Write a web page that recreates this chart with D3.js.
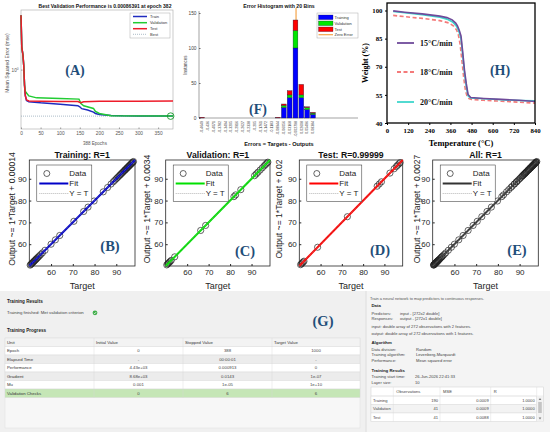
<!DOCTYPE html>
<html>
<head>
<meta charset="utf-8">
<script src="https://cdn.jsdelivr.net/npm/d3@7/dist/d3.min.js"></script>
<style>html,body{margin:0;padding:0;background:#fff;}svg{display:block;}</style>
</head>
<body>
<svg id="chart" width="550" height="432"></svg>
<script>
// ---------- (A) training performance (MSE, log scale) ----------
const trainEpochs = [0, 2, 5, 7, 9, 11, 14, 20, 50, 100, 145, 150, 155, 170, 185, 190, 200, 230, 260, 300, 388];
const trainMSE    = [4430, 34, 10, 2, 0.1, 0.02, 0.0095, 0.0078, 0.0066, 0.0054, 0.0043, 0.0036, 0.0027, 0.0022, 0.0016, 0.0013, 0.0011, 0.00095, 0.0009, 0.00089, 0.00088];
const valEpochs   = [0, 2, 5, 7, 9, 11, 13, 20, 40, 100, 148, 153, 160, 185, 190, 200, 230, 388];
const valMSE      = [4430, 34, 10, 2, 0.1, 0.04, 0.032, 0.019, 0.0142, 0.0128, 0.0117, 0.006, 0.0042, 0.0028, 0.0018, 0.0013, 0.00093, 0.00086391];
const testEpochs  = [0, 2, 5, 7, 9, 11, 14, 20, 50, 100, 145, 152, 160, 200, 300, 388];
const testMSE     = [4430, 34, 10, 2, 0.1, 0.02, 0.0105, 0.0088, 0.0085, 0.0082, 0.008, 0.0068, 0.0079, 0.0085, 0.0086, 0.0088];
const bestEpoch = 382, bestPerf = 0.00086391;
const perfTicks = [0, 50, 100, 150, 200, 250, 300, 350];

// ---------- (F) error histogram ----------
const binLabels = ["-0.4649","-0.436","-0.4071","-0.3782","-0.3494","-0.3205","-0.2916","-0.2627","-0.2338","-0.205","-0.1761","-0.1472","-0.1183","-0.08944","-0.06056","-0.03168","-0.002798","0.02608","0.05496","0.08384"];
const histTrain = [0,0,0,0,0,0,0,0,0,0,0,0,0,0,15,29,100,29,12,5];
const histVal   = [0,0,0,0,0,0,0,0,0,0,0,0,0,0,3,4,25,4,3,2];
const histTest  = [1,0,0,0,0,0,0,0,0,0,0,0,0,1,2,6,15,15,1,1];
const histTicks = [0, 50, 100, 150];

// ---------- (H) TGA curves ----------
const temp15 = [35, 100, 200, 300, 340, 370, 390, 400, 410, 420, 430, 440, 450, 460, 475, 550, 650, 750, 840];
const wt15   = [99.8, 99.1, 98.2, 97.0, 96.2, 95.0, 93.3, 91.8, 89.5, 86.5, 77.5, 68, 61, 55.2, 53.6, 53.1, 52.6, 52.1, 51.5];
const temp18 = [35, 100, 200, 300, 350, 380, 395, 405, 415, 425, 435, 445, 455, 465, 480, 550, 650, 750, 840];
const wt18   = [97.4, 96.7, 95.8, 94.6, 93.4, 91.6, 89.6, 87.0, 82.0, 73.5, 64.5, 57.5, 54.0, 53.0, 52.6, 52.1, 51.6, 51.1, 50.6];
const temp20 = [35, 100, 200, 300, 340, 370, 390, 400, 410, 420, 430, 440, 450, 460, 475, 550, 650, 750, 840];
const wt20   = [99.5, 98.8, 97.8, 96.4, 95.4, 94.0, 92.2, 90.6, 88.3, 85, 76, 66.5, 59.5, 54.5, 53.3, 52.9, 52.4, 52.0, 51.8];
const tgaXTicks = [0, 120, 240, 360, 480, 600, 720, 840];
const tgaYTicks = [40, 55, 70, 85, 100];

// ---------- (B-E) regression ----------
const trainTargets = [50.4, 50.7, 51.0, 51.3, 51.6, 51.9, 52.2, 52.5, 52.8, 53.1, 53.4, 53.8, 54.2, 54.7, 55.3, 56.0, 57.2, 60.0, 62.0, 64.0, 70.5, 75.0, 77.0, 79.8, 84.0, 86.0, 87.6, 88.6, 89.3, 89.9, 90.4, 90.9, 91.4, 91.8, 92.2, 92.6, 93.0, 93.4, 93.7, 94.0, 94.3, 94.6, 94.9, 95.2, 95.5, 95.8, 96.1, 96.4, 96.7, 97.0, 97.3, 97.6, 97.9];
const valTargets   = [50.5, 50.9, 51.3, 51.7, 52.1, 52.6, 54.2, 66.3, 68.6, 81.8, 82.6, 85.0, 91.4, 92.2, 93.0, 94.0, 95.0, 95.9, 96.5, 97.1, 97.6];
const testTargets  = [50.6, 51.0, 51.4, 51.8, 52.2, 58.6, 72.6, 86.6, 87.6, 88.6, 92.6, 94.6, 95.6, 96.2, 96.8, 97.4];
const allTargets   = trainTargets.concat(valTargets, testTargets);
const regTicks = [60, 70, 80, 90];

// ---------- (G) training summary ----------
const progCols = ["Unit", "Initial Value", "Stopped Value", "Target Value"];
const progRows = [["Epoch","0","388","1000"],["Elapsed Time","-","00:00:01","-"],["Performance","4.43e+03","0.000913","0"],["Gradient","8.68e+03","0.0143","1e-07"],["Mu","0.001","1e-05","1e+10"],["Validation Checks","0","6","6"]];
const resCols = ["", "Observations", "MSE", "R"];
const resRows = [["Training","190","0.0009","1.0000"],["Validation","41","0.0009","1.0000"],["Test","41","0.0088","1.0000"]];

// =====================================================
const svg = d3.select("#chart");
const SANS = "'Liberation Sans', Arial, sans-serif";
const SERIF = "'Liberation Serif', 'Times New Roman', serif";
const TAG = "#1f4e79";
svg.append("rect").attr("width",550).attr("height",432).attr("fill","#fff");

function txt(g, x, y, s, o = {}) {
  const t = g.append("text").attr("x", x).attr("y", y).text(s)
    .attr("font-family", o.family || SANS).attr("font-size", o.size || 5)
    .attr("fill", o.fill || "#222").attr("font-weight", o.weight || "normal")
    .attr("text-anchor", o.anchor || "start");
  if (o.rotate !== undefined) t.attr("transform", `rotate(${o.rotate},${x},${y})`);
  return t;
}
function styleAx(sel, size, color, family, weight, lineColor) {
  sel.attr("font-size", size).attr("font-family", family);
  sel.selectAll("text").attr("fill", color).attr("font-weight", weight || "normal");
  sel.selectAll("line").attr("stroke", lineColor || color);
  sel.select(".domain").remove();
}

// ---------------- Panel A ----------------
{
  const P = {l:21, r:173, t:10, b:129};
  const g = svg.append("g");
  const x = d3.scaleLinear().domain([0,388]).range([P.l,P.r]);
  const y = d3.scaleLog().domain([1.2e-4,1e4]).range([P.b,P.t]);
  g.append("rect").attr("x",P.l).attr("y",P.t).attr("width",P.r-P.l).attr("height",P.b-P.t)
    .attr("fill","#fff").attr("stroke","#a8a8a8").attr("stroke-width",0.6);
  const ax = g.append("g").attr("transform",`translate(0,${P.b})`)
    .call(d3.axisBottom(x).tickValues(perfTicks).tickSize(-1.5).tickPadding(2.5));
  styleAx(ax, 4.8, "#555", SANS, "normal", "#999");
  g.append("line").attr("x1",P.l).attr("x2",P.l+1.5).attr("y1",y(1)).attr("y2",y(1)).attr("stroke","#999");
  const yt = txt(g, P.l-2.5, y(1)+1.7, "10", {size:4.6, anchor:"end", fill:"#555"});
  yt.append("tspan").attr("dy",-2).attr("font-size",3.2).text("0");
  const ln = d3.line().x(d=>x(d[0])).y(d=>y(d[1]));
  g.append("line").attr("x1",x(0)).attr("x2",x(388)).attr("y1",y(bestPerf)).attr("y2",y(bestPerf))
    .attr("stroke","#8aa0b0").attr("stroke-width",0.7).attr("stroke-dasharray","1,1");
  [[trainEpochs,trainMSE,"#1f2bbf"],[valEpochs,valMSE,"#22cc33"],[testEpochs,testMSE,"#ee1c2a"]].forEach(([e,v,c])=>{
    g.append("path").datum(e.map((d,i)=>[d,v[i]])).attr("d",ln).attr("fill","none")
      .attr("stroke",c).attr("stroke-width",1.5);
  });
  g.append("circle").attr("cx",x(bestEpoch)).attr("cy",y(bestPerf)).attr("r",3.3)
    .attr("fill","none").attr("stroke","#1a9a2a").attr("stroke-width",0.9);
  txt(g, 105, 7.5, "Best Validation Performance is 0.00086391 at epoch 382", {size:5, weight:"bold", anchor:"middle", fill:"#111"});
  txt(g, 95, 145, "388 Epochs", {size:4.5, anchor:"middle", fill:"#555"});
  txt(g, 8.5, 63, "Mean Squared Error  (mse)", {size:5, anchor:"middle", fill:"#555", rotate:-90});
  // legend
  g.append("rect").attr("x",130).attr("y",13).attr("width",40).attr("height",25)
    .attr("fill","#fff").attr("stroke","#aaa").attr("stroke-width",0.5);
  const leg = [["Train","#1f2bbf",16.5,false],["Validation","#22cc33",22.7,false],["Test","#ee1c2a",28.7,false],["Best","#8aa0b0",34.3,true]];
  leg.forEach(([n,c,yy,dot])=>{
    g.append("line").attr("x1",133).attr("x2",147).attr("y1",yy).attr("y2",yy).attr("stroke",c)
      .attr("stroke-width",dot?0.7:1.5).attr("stroke-dasharray",dot?"1,1":null);
    txt(g, 150, yy+1.4, n, {size:4, fill:"#333"});
  });
  txt(g, 75, 75, "(A)", {family:SERIF, size:14, weight:"bold", anchor:"middle", fill:TAG});
}

// ---------------- Panel F ----------------
{
  const g = svg.append("g");
  const y = d3.scaleLinear().domain([0,150]).range([118,13]);
  const x = d3.scaleLinear().domain([+binLabels[0], +binLabels[binLabels.length-1]]).range([202,313]);
  g.append("line").attr("x1",199).attr("x2",199).attr("y1",118).attr("y2",11).attr("stroke","#666").attr("stroke-width",0.6);
  g.append("line").attr("x1",199).attr("x2",358).attr("y1",118).attr("y2",118).attr("stroke","#666").attr("stroke-width",0.6);
  const ay = g.append("g").attr("transform","translate(199,0)")
    .call(d3.axisLeft(y).tickValues(histTicks).tickSize(-1.5).tickPadding(2.5));
  styleAx(ay, 4.8, "#444", SANS, "normal", "#666");
  // zero error line
  g.append("line").attr("x1",x(0)).attr("x2",x(0)).attr("y1",8).attr("y2",118)
    .attr("stroke","#f5a54a").attr("stroke-width",1.2);
  const bw = 4.8;
  binLabels.forEach((lab,i)=>{
    const cx = x(+lab);
    let base = 0;
    [[histTrain[i],"#0000ff"],[histVal[i],"#00e600"],[histTest[i],"#ff0000"]].forEach(([v,c])=>{
      if (v>0) {
        g.append("rect").attr("x",cx-bw/2).attr("y",y(base+v)).attr("width",bw).attr("height",y(base)-y(base+v))
          .attr("fill",c).attr("stroke","#1a1a3a").attr("stroke-width",0.35);
      }
      base += v;
    });
    g.append("text").attr("transform",`translate(${cx},121) rotate(-90)`).attr("text-anchor","end")
      .attr("dy","0.35em").attr("font-size",3.5).attr("font-family",SANS).attr("fill","#333").text(lab);
  });
  txt(g, 279, 7.5, "Error Histogram with 20 Bins", {size:5.2, weight:"bold", anchor:"middle", fill:"#111"});
  txt(g, 279, 145.5, "Errors = Targets - Outputs", {size:5.6, weight:"bold", anchor:"middle", fill:"#111"});
  txt(g, 186.5, 65, "Instances", {size:4.5, anchor:"middle", fill:"#444", rotate:-90});
  g.append("rect").attr("x",317).attr("y",13).attr("width",41).attr("height",25)
    .attr("fill","#fff").attr("stroke","#aaa").attr("stroke-width",0.5);
  [["Training","#0000ff",17.3],["Validation","#00e600",23.3],["Test","#ff0000",29.3]].forEach(([n,c,yy])=>{
    g.append("rect").attr("x",318.5).attr("y",yy-2.3).attr("width",14.5).attr("height",4.6)
      .attr("fill",c).attr("stroke","#1a1a3a").attr("stroke-width",0.3);
    txt(g, 334.5, yy+1.4, n, {size:4, fill:"#333"});
  });
  g.append("line").attr("x1",318.5).attr("x2",333).attr("y1",34.7).attr("y2",34.7).attr("stroke","#f5a54a").attr("stroke-width",1.2);
  txt(g, 334.5, 36.1, "Zero Error", {size:4, fill:"#333"});
  txt(g, 258, 114, "(F)", {family:SERIF, size:14, weight:"bold", anchor:"middle", fill:TAG});
}

// ---------------- Panel H ----------------
{
  const P = {l:387, r:535, t:3, b:123};
  const g = svg.append("g");
  const x = d3.scaleLinear().domain([0,840]).range([P.l,P.r]);
  const y = d3.scaleLinear().domain([40,104]).range([P.b,P.t]);
  const ax = g.append("g").attr("transform",`translate(0,${P.b})`)
    .call(d3.axisBottom(x).tickValues(tgaXTicks).tickSize(2).tickPadding(3));
  styleAx(ax, 6.8, "#000", SERIF, "bold");
  const ay = g.append("g").attr("transform",`translate(${P.l},0)`)
    .call(d3.axisLeft(y).tickValues(tgaYTicks).tickSize(2).tickPadding(2.5));
  styleAx(ay, 6.8, "#000", SERIF, "bold");
  const ln = d3.line().x(d=>x(d[0])).y(d=>y(d[1]));
  const series = [[temp18,wt18,"#f47a7a","4,2.5"],[temp20,wt20,"#3fd6cc",null],[temp15,wt15,"#6f4a9a",null]];
  series.forEach(([t,w,c,dash])=>{
    g.append("path").datum(t.map((d,i)=>[d,w[i]])).attr("d",ln).attr("fill","none")
      .attr("stroke",c).attr("stroke-width",1.6).attr("stroke-dasharray",dash);
  });
  g.append("rect").attr("x",P.l).attr("y",P.t).attr("width",P.r-P.l).attr("height",P.b-P.t)
    .attr("fill","none").attr("stroke","#000").attr("stroke-width",1.3);
  [["15°C/min","#6f4a9a",null,43],["18°C/min","#f47a7a","4,2.5",72],["20°C/min","#3fd6cc",null,102]].forEach(([n,c,dash,yy])=>{
    g.append("line").attr("x1",397).attr("x2",414).attr("y1",yy).attr("y2",yy).attr("stroke",c)
      .attr("stroke-width",1.8).attr("stroke-dasharray",dash);
    txt(g, 420, yy+2.8, n, {family:SERIF, size:8, weight:"bold", fill:"#111"});
  });
  txt(g, 461, 146, "Temperature (°C)", {family:SERIF, size:8.5, weight:"bold", anchor:"middle", fill:"#000"});
  txt(g, 368, 63, "Weight (%)", {family:SERIF, size:8, weight:"bold", anchor:"middle", fill:"#000", rotate:-90});
  txt(g, 500, 75, "(H)", {family:SERIF, size:14, weight:"bold", anchor:"middle", fill:TAG});
}

// ---------------- Regression panels ----------------
const regDomain = [50, 98.6];
function regPanel(c) {
  const g = svg.append("g");
  const x = d3.scaleLinear().domain(regDomain).range([c.l, c.r]);
  const y = d3.scaleLinear().domain(regDomain).range([c.b, c.t]);
  g.append("rect").attr("x",c.l).attr("y",c.t).attr("width",c.r-c.l).attr("height",c.b-c.t)
    .attr("fill","#fff").attr("stroke","#262626").attr("stroke-width",0.8);
  const ax = g.append("g").attr("transform",`translate(0,${c.b})`)
    .call(d3.axisBottom(x).tickValues(regTicks).tickSize(-2).tickPadding(3));
  styleAx(ax, 8, "#262626", SANS);
  const ay = g.append("g").attr("transform",`translate(${c.l},0)`)
    .call(d3.axisLeft(y).tickValues(regTicks).tickSize(-2).tickPadding(2.5));
  styleAx(ay, 8, "#262626", SANS);
  g.selectAll("circle.pt").data(c.pts).enter().append("circle").attr("class","pt")
    .attr("cx",d=>x(d)).attr("cy",d=>y(d)).attr("r",3.1)
    .attr("fill","none").attr("stroke","#222").attr("stroke-width",0.7);
  g.append("line").attr("x1",x(regDomain[0])).attr("y1",y(regDomain[0])).attr("x2",x(regDomain[1])).attr("y2",y(regDomain[1]))
    .attr("stroke",c.color).attr("stroke-width",2);
  g.append("line").attr("x1",x(regDomain[0])).attr("y1",y(regDomain[0])).attr("x2",x(regDomain[1])).attr("y2",y(regDomain[1]))
    .attr("stroke","#999").attr("stroke-width",0.6).attr("stroke-dasharray","1,1");
  const cx = (c.l+c.r)/2;
  txt(g, cx, c.t-2, c.title, {size:8.7, weight:"bold", anchor:"middle", fill:"#111"});
  txt(g, cx, 288.5, "Target", {size:9, anchor:"middle", fill:"#262626"});
  txt(g, c.yl, 209, c.ylabel, {size:8.6, anchor:"middle", fill:"#262626", rotate:-90}).attr("dy","0.35em");
  // legend
  const L = c.l+7.5, T = c.t+5;
  g.append("rect").attr("x",L).attr("y",T).attr("width",55).attr("height",36.5)
    .attr("fill","#fff").attr("stroke","#262626").attr("stroke-width",0.5);
  g.append("circle").attr("cx",c.l+17.5).attr("cy",T+8.5).attr("r",3).attr("fill","none").attr("stroke","#222").attr("stroke-width",0.7);
  txt(g, c.l+40, T+11.3, "Data", {size:8, fill:"#222"});
  g.append("line").attr("x1",c.l+10).attr("x2",c.l+39).attr("y1",T+18.5).attr("y2",T+18.5).attr("stroke",c.color).attr("stroke-width",2);
  txt(g, c.l+40, T+21.3, "Fit", {size:8, fill:"#222"});
  g.append("line").attr("x1",c.l+10).attr("x2",c.l+39).attr("y1",T+28.5).attr("y2",T+28.5).attr("stroke","#888").attr("stroke-width",0.6).attr("stroke-dasharray","1,1");
  txt(g, c.l+40, T+31.3, "Y = T", {size:8, fill:"#222"});
  txt(g, c.tx, c.ty, c.tag, {family:SERIF, size:14.5, weight:"bold", anchor:"middle", fill:TAG});
}
regPanel({l:29.3, r:135, t:160, b:266, title:"Training: R=1", ylabel:"Output ~= 1*Target + 0.00014", yl:11.7, color:"#0000c8", pts:trainTargets, tag:"(B)", tx:110, ty:251});
regPanel({l:165.7, r:270, t:160, b:266, title:"Validation: R=1", ylabel:"Output ~= 1*Target + 0.0034", yl:147, color:"#00e000", pts:valTargets, tag:"(C)", tx:245, ty:256});
regPanel({l:299.3, r:402.7, t:160, b:266, title:"Test: R=0.99999", ylabel:"Output ~= 1*Target + 0.02", yl:278.5, color:"#ff0000", pts:testTargets, tag:"(D)", tx:380, ty:255});
regPanel({l:432.7, r:538.3, t:160, b:266, title:"All: R=1", ylabel:"Output ~= 1*Target + 0.0027", yl:416.7, color:"#333", pts:allTargets, tag:"(E)", tx:517, ty:255});

// ---------------- Panel G (training summary) ----------------
{
  const g = svg.append("g");
  g.append("rect").attr("x",0).attr("y",291).attr("width",550).attr("height",141).attr("fill","#f0f0f0");
  g.append("rect").attr("x",366).attr("y",291).attr("width",184).attr("height",141).attr("fill","#f4f4f4");
  g.append("line").attr("x1",366).attr("x2",366).attr("y1",291).attr("y2",432).attr("stroke","#d8d8d8").attr("stroke-width",0.8);
  const F = 4.3;
  txt(g, 7, 302.5, "Training Results", {size:4.6, weight:"bold", fill:"#222"});
  txt(g, 7, 314.3, "Training finished: Met validation criterion", {size:F, fill:"#444"});
  g.append("circle").attr("cx",95).attr("cy",312.8).attr("r",2.4).attr("fill","#3fae49");
  g.append("path").attr("d","M93.8,312.9 L94.7,313.8 L96.3,311.9").attr("fill","none").attr("stroke","#fff").attr("stroke-width",0.7);
  txt(g, 7, 332.3, "Training Progress", {size:4.6, weight:"bold", fill:"#222"});
  g.append("rect").attr("x",5).attr("y",338).attr("width",355).attr("height",90).attr("fill","#f7f7f7").attr("stroke","#dedede").attr("stroke-width",0.5);
  const cx = [5, 94, 183, 272, 360];
  const rh = 8.5, top = 338;
  const bgs = ["#f3f3f3","#ffffff","#ececec","#ffffff","#ececec","#ffffff","#c5e6b6"];
  [progCols].concat(progRows).forEach((row,ri)=>{
    const y0 = top + ri*rh;
    g.append("rect").attr("x",5).attr("y",y0).attr("width",355).attr("height",rh).attr("fill",bgs[ri]).attr("stroke","#d6d6d6").attr("stroke-width",0.4);
    row.forEach((s,ci)=>{
      if (ri===0 || ci===0) txt(g, cx[ci]+2, y0+5.8, s, {size:F, fill:"#333"});
      else txt(g, (cx[ci]+cx[ci+1])/2, y0+5.8, s, {size:F, anchor:"middle", fill:"#444"});
    });
  });
  [1,2,3].forEach(ci=>g.append("line").attr("x1",cx[ci]).attr("x2",cx[ci]).attr("y1",top).attr("y2",top+7*rh).attr("stroke","#d6d6d6").attr("stroke-width",0.4));
  txt(g, 323, 326, "(G)", {family:SERIF, size:14.5, weight:"bold", anchor:"middle", fill:TAG});

  // right column
  const RF = 4.1, X0 = 371.5, X1 = 400, X2 = 416;
  txt(g, 370, 299.5, "Train a neural network to map predictors to continuous responses.", {size:3.9, fill:"#555"});
  txt(g, X0, 307.2, "Data", {size:4.3, weight:"bold", fill:"#222"});
  txt(g, X0, 314.8, "Predictors:", {size:RF, fill:"#444"}); txt(g, X1, 314.8, "input - [272x2 double]", {size:RF, fill:"#444"});
  txt(g, X0, 319.8, "Responses:", {size:RF, fill:"#444"}); txt(g, X1, 319.8, "output - [272x1 double]", {size:RF, fill:"#444"});
  txt(g, X0, 328.2, "input: double array of 272 observations with 2 features.", {size:RF, fill:"#444"});
  txt(g, X0, 334.8, "output: double array of 272 observations with 1 features.", {size:RF, fill:"#444"});
  txt(g, X0, 344.2, "Algorithm", {size:4.3, weight:"bold", fill:"#222"});
  txt(g, X0, 350.5, "Data division:", {size:RF, fill:"#444"}); txt(g, X2, 350.5, "Random", {size:RF, fill:"#444"});
  txt(g, X0, 355.8, "Training algorithm:", {size:RF, fill:"#444"}); txt(g, X2, 355.8, "Levenberg-Marquardt", {size:RF, fill:"#444"});
  txt(g, X0, 362.2, "Performance:", {size:RF, fill:"#444"}); txt(g, X2, 362.2, "Mean squared error", {size:RF, fill:"#444"});
  txt(g, X0, 372.2, "Training Results", {size:4.3, weight:"bold", fill:"#222"});
  txt(g, X0, 378.2, "Training start time:", {size:RF, fill:"#444"}); txt(g, 415, 378.2, "26-Jun-2026 22:41:33", {size:RF, fill:"#444"});
  txt(g, X0, 384.2, "Layer size:", {size:RF, fill:"#444"}); txt(g, 415, 384.2, "10", {size:RF, fill:"#444"});
  const rc = [371, 393.3, 440, 490.7, 536.7, 543.3];
  const rtop = 387, hh = 9, rr = 8.5;
  g.append("rect").attr("x",rc[0]).attr("y",rtop).attr("width",rc[5]-rc[0]).attr("height",hh+3*rr).attr("fill","#fff").attr("stroke","#cfcfcf").attr("stroke-width",0.5);
  resCols.forEach((s,ci)=>{ if (s) txt(g, rc[ci]+3, rtop+6, s, {size:RF, fill:"#444"}); });
  resRows.forEach((row,ri)=>{
    const y0 = rtop + hh + ri*rr;
    g.append("rect").attr("x",rc[0]).attr("y",y0).attr("width",rc[4]-rc[0]).attr("height",rr)
      .attr("fill", ri%2===0 ? "#fff" : "#f3f3f3").attr("stroke","#d6d6d6").attr("stroke-width",0.4);
    row.forEach((s,ci)=>{
      if (ci===0) txt(g, rc[0]+2, y0+5.8, s, {size:RF, fill:"#444"});
      else txt(g, rc[ci+1]-2, y0+5.8, s, {size:RF, anchor:"end", fill:"#444"});
    });
  });
  [1,2,3,4].forEach(ci=>g.append("line").attr("x1",rc[ci]).attr("x2",rc[ci]).attr("y1",rtop).attr("y2",rtop+hh+3*rr).attr("stroke","#d6d6d6").attr("stroke-width",0.4));
  g.append("line").attr("x1",rc[0]).attr("x2",rc[5]).attr("y1",rtop+hh).attr("y2",rtop+hh).attr("stroke","#d6d6d6").attr("stroke-width",0.4);
  // scrollbar
  g.append("rect").attr("x",rc[4]+0.5).attr("y",rtop+hh).attr("width",5.6).attr("height",3*rr).attr("fill","#f1f1f1");
  g.append("rect").attr("x",rc[4]+1.5).attr("y",rtop+hh+6).attr("width",3.6).attr("height",11).attr("fill","#c4c4c4");
  g.append("path").attr("d",`M${rc[4]+2},${rtop+hh+4} L${rc[4]+3.3},${rtop+hh+2} L${rc[4]+4.6},${rtop+hh+4}Z`).attr("fill","#777");
  g.append("path").attr("d",`M${rc[4]+2},${rtop+hh+3*rr-4} L${rc[4]+3.3},${rtop+hh+3*rr-2} L${rc[4]+4.6},${rtop+hh+3*rr-4}Z`).attr("fill","#777");
}
</script>
</body>
</html>
